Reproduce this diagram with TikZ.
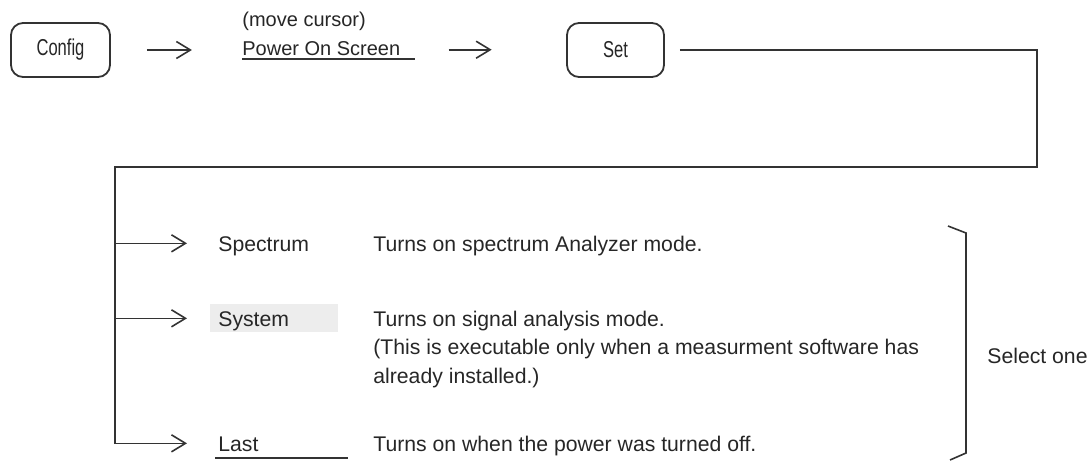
\documentclass[tikz,border=0pt]{standalone}
\usepackage{fontspec}
\setmainfont{Liberation Sans}
\newfontfamily\keyfont[FakeStretch=0.72]{Liberation Sans}
\usetikzlibrary{arrows.meta,positioning,backgrounds}

\begin{document}
\begin{tikzpicture}[
  x=0.5pt, y=-0.5pt,
  font=\fontsize{10.6}{14.2}\selectfont,
  >={Straight Barb[length=7pt,width=8.5pt]},
  keybox/.style={
    rectangle, rounded corners=6pt,
    draw=black!80, line width=0.9pt,
    minimum height=27pt, inner sep=2pt,
    font=\keyfont\fontsize{11.5}{12}\selectfont, text=black!85
  },
  item/.style={anchor=base west, inner sep=0pt, text=black!85},
  top/.style={item, font=\fontsize{10}{12}\selectfont},
  arr/.style={->, line width=0.8pt, black!80},
  wire/.style={line width=0.8pt, black!80},
  sysbg/.style={fill=black!7}
]
\useasboundingbox (0,0) rectangle (1090,461);

%% -- top row: key sequence ----------------------------------------------
\node[keybox, minimum width=49.5pt] (config) at (60.5,50) {Config};
\node[top] (cursor) at (242,26) {(move cursor)};
\node[top] (screen) at (242,55) {Power On Screen};
\node[keybox, minimum width=48.5pt] (set) at (615.5,50) {Set};

\draw[wire] ([yshift=-2pt]screen.base west) -- ++(173,0);

\draw[arr] ([xshift=18pt]config.east) -- ++(45,0);
\draw[arr] ([xshift=24pt]screen.mid east) -- ++(43,0);

%% -- choices --------------------------------------------------------------
\node[item] (spec) at (218,251) {Spectrum};
\node[item] (sys)  at (218,326) {System};
\node[item] (last) at (218,451) {Last};

\begin{scope}[on background layer]
  \fill[sysbg] ([xshift=-4pt,yshift=-3pt]sys.base west) rectangle ++(128,-28);
\end{scope}
\draw[wire] ([yshift=-3.5pt,xshift=-1.5pt]last.base west) -- ++(133,0);

%% descriptions (base of a multi-line node = its last line)
\node[item] (dspec) at (373,251) {Turns on spectrum Analyzer mode.};
\node[item, align=left] (dsys) at (373,383)
  {Turns on signal analysis mode.\\
   (This is executable only when a measurment software has\\
   already installed.)};
\node[item] (dlast) at (373,451) {Turns on when the power was turned off.};

%% -- route from Set down to the choices ----------------------------------
\coordinate (corner) at (1037,167);
\coordinate (vbus)   at (115,167);

\draw[arr] ([xshift=7.5pt]set.east) -| (corner) -- (vbus)
  |- ([xshift=-15.5pt,yshift=1.2pt]last.mid west);
\foreach \n in {spec, sys}
  \draw[arr] ([yshift=1.2pt]vbus |- \n.mid west)
    -- ([xshift=-15.5pt,yshift=1.2pt]\n.mid west);

%% -- bracket ---------------------------------------------------------------
\draw[wire] (948,226) -- (966,233) -- (966,453) -- (950,460);
\node[item] (select) at (987,363) {Select one};

\end{tikzpicture}
\end{document}
